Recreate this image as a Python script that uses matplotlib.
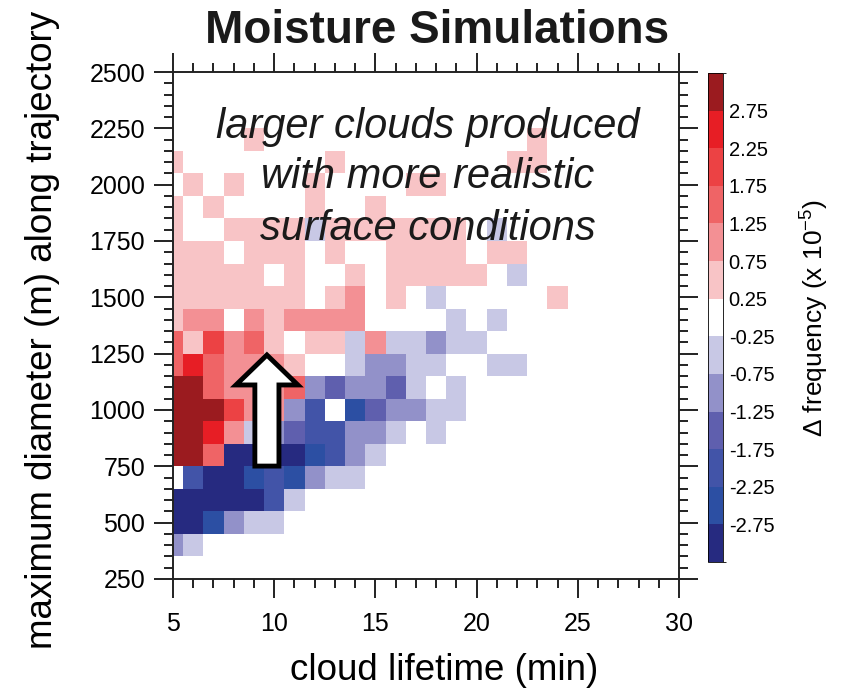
import numpy as np
import matplotlib.pyplot as plt
from matplotlib.colors import ListedColormap, BoundaryNorm
from matplotlib.patches import FancyArrow

plt.rcParams['font.family'] = ['Liberation Sans', 'DejaVu Sans']
plt.rcParams['mathtext.fontset'] = 'custom'
plt.rcParams['mathtext.rm'] = 'Liberation Sans'

# bin centres (cloud lifetime in min, max diameter in m)
lifetime = [5, 6, 7, 8, 9, 10, 11, 12, 13, 14, 15, 16, 17, 18, 19, 20, 21, 22, 23, 24]
diameter = [400, 500, 600, 700, 800, 900, 1000, 1100, 1200, 1300, 1400,
            1500, 1600, 1700, 1800, 1900, 2000, 2100, 2200]

# delta frequency (x 1e-5), one row per diameter bin, bottom to top
freq_diff = [
    [-1, -0.5, 0, 0, 0, 0, 0, 0, 0, 0, 0, 0, 0, 0, 0, 0, 0, 0, 0, 0],
    [-3, -3, -2.5, -1, -0.5, -0.5, 0, 0, 0, 0, 0, 0, 0, 0, 0, 0, 0, 0, 0, 0],
    [-3, -3, -3, -3, -3, -2, -0.5, 0, 0, 0, 0, 0, 0, 0, 0, 0, 0, 0, 0, 0],
    [0, -2, -3, -3, -2.5, -2, -2.5, -1, -0.5, -0.5, 0, 0, 0, 0, 0, 0, 0, 0, 0, 0],
    [3, 3, 1.5, -3, -3, -3, -3, -2.5, -2, -1, -0.5, 0, 0, 0, 0, 0, 0, 0, 0, 0],
    [3, 3, 2.5, 1, -0.5, -1, -1.5, -2, -2, -1, -1, -0.5, 0, -0.5, 0, 0, 0, 0, 0, 0],
    [3, 3, 3, 2, 1, 1, -1, -2, 0, -2.5, -1.5, -1, -1, -0.5, -0.5, 0, 0, 0, 0, 0],
    [3, 3, 1.5, 1, 1, 1, 1.5, -1, -1.5, -1, -1, -1.5, -0.5, 0, -0.5, 0, 0, 0, 0, 0],
    [1.5, 2.5, 1.5, 1, 1, 1, 0.5, 0, 0, -0.5, -1, -1, -0.5, -0.5, 0, 0, -0.5, -0.5, 0, 0],
    [1.5, 0.5, 2, 1, 1.5, 0.5, 0, 0.5, 0.5, -0.5, 1, -0.5, -0.5, -1, -0.5, -0.5, 0, 0, 0, 0],
    [0.5, 1, 1, 0, 1, 0.5, 1, 1, 1, 1, 0, 0, 0, 0, -0.5, 0, -0.5, 0, 0, 0],
    [0.5, 0.5, 0.5, 0.5, 0.5, 0.5, 0.5, 0, 0.5, 1, 0, 0.5, 0, -0.5, 0, 0, 0, 0, 0, 0.5],
    [0.5, 0.5, 0.5, 0.5, 0.5, 0, 0.5, 0, 0, 0.5, 0, 0.5, 0.5, 0.5, 0.5, 0.5, 0, -0.5, 0, 0],
    [0.5, 0.5, 0.5, 0, 0.5, 0.5, 0.5, 0, 0.5, 0, 0, 0.5, 0.5, 0.5, 0.5, 0, 0.5, 0.5, 0, 0],
    [0.5, 0, 0, 0.5, 0.5, 0.5, 0.5, -0.5, 0.5, 0.5, 0.5, 0.5, 0.5, 0.5, 0.5, 0, -0.5, 0, 0, 0],
    [0.5, 0, 0.5, 0, 0, 0, 0, 0.5, 0, 0, 0.5, 0, 0, 0, 0, 0, 0, 0, 0, 0],
    [0, 0.5, 0, 0.5, 0, 0, 0, 0.5, 0, 0, 0, 0, 0.5, 0.5, 0, 0, 0, 0, 0, 0],
    [0.5, 0, 0, 0, 0, 0, 0, 0, 0.5, 0, 0, 0, 0, 0, 0, 0, 0, 0.5, 0.5, 0],
    [0, 0, 0, 0, 0.5, 0, 0, 0, 0, 0, 0, 0, 0, 0, 0, 0, 0, 0, 0.5, 0],
]

level_bounds = [-3.25, -2.75, -2.25, -1.75, -1.25, -0.75, -0.25,
                0.25, 0.75, 1.25, 1.75, 2.25, 2.75, 3.25]
level_colors = ['#262a80', '#2c4fa3', '#4254a8', '#5f5fae', '#9291c9', '#c8c8e5',
                '#ffffff', '#f8c4c6', '#f39094', '#ef6466', '#ec4244', '#e71e25', '#9b1b1f']
cbar_ticks = [-2.75, -2.25, -1.75, -1.25, -0.75, -0.25, 0.25, 0.75, 1.25, 1.75, 2.25, 2.75]

cmap = ListedColormap(level_colors)
norm = BoundaryNorm(level_bounds, cmap.N)

fig = plt.figure(figsize=(8.43, 6.89), dpi=100)
ax = fig.add_axes([0.2052, 0.1597, 0.6003, 0.7358])

x = np.array(lifetime, dtype=float)
y = np.array(diameter, dtype=float)
xe = np.append(x - 0.5, x[-1] + 0.5)
ye = np.append(y - 50, y[-1] + 50)
mesh = ax.pcolormesh(xe, ye, np.array(freq_diff), cmap=cmap, norm=norm,
                     edgecolors='face', linewidth=0, antialiased=False)

ax.set_xlim(5, 30)
ax.set_ylim(250, 2500)
ax.set_xticks(np.arange(5, 31, 5))
ax.set_xticks(np.arange(5, 31, 1), minor=True)
ax.set_yticks(np.arange(250, 2501, 250))
ax.set_yticks(np.arange(250, 2501, 50), minor=True)
ax.tick_params(which='both', direction='out', top=True, right=True,
               labeltop=False, labelright=False, width=1.4, color='#222222')
ax.tick_params(which='major', length=14, labelsize=18)
ax.tick_params(which='minor', length=6.5)
ax.tick_params(axis='x', which='major', pad=10)
ax.tick_params(axis='y', which='major', pad=6)
for s in ax.spines.values():
    s.set_linewidth(1.4)
    s.set_color('#222222')

ax.set_xlabel('cloud lifetime (min)', fontsize=26.5)
ax.xaxis.label.set_va('baseline')
ax.xaxis.set_label_coords(0.536, -0.199)
ax.set_ylabel('maximum diameter (m) along trajectory', fontsize=26.5)
ax.yaxis.label.set_va('baseline')
ax.yaxis.set_label_coords(-0.239, 0.491)

# annotation text
ax.text(17.6, 2207, 'larger clouds produced', fontsize=30, style='italic',
        ha='center', va='baseline', color='#1a1a1a')
ax.text(17.6, 1985, 'with more realistic', fontsize=30, style='italic',
        ha='center', va='baseline', color='#1a1a1a')
ax.text(17.6, 1755, 'surface conditions', fontsize=30, style='italic',
        ha='center', va='baseline', color='#1a1a1a')

arrow = FancyArrow(9.64, 751, 0, 1244 - 751, width=1.19, head_width=3.06,
                   head_length=133, length_includes_head=True,
                   facecolor='white', edgecolor='black', linewidth=3.5,
                   joinstyle='miter', zorder=5)
ax.add_patch(arrow)

fig.text(0.518, 0.955, 'Moisture Simulations', ha='center', va='center',
         fontsize=33, fontweight='bold', color='#1a1a1a')

# colour bar
cax = fig.add_axes([0.840, 0.1843, 0.0178, 0.7097])
cb = fig.colorbar(mesh, cax=cax, ticks=cbar_ticks)
cb.set_ticklabels(['%.2f' % t for t in cbar_ticks])
cb.ax.tick_params(length=0, labelsize=14.5, pad=4)
cb.outline.set_linewidth(0.6)
cb.set_label('Δ frequency (x 10$^{-5}$)', fontsize=19, rotation=90)
cb.ax.yaxis.label.set_va('baseline')
cb.ax.yaxis.set_label_coords(7.6, 0.5)

fig.savefig('out.png', dpi=100)
